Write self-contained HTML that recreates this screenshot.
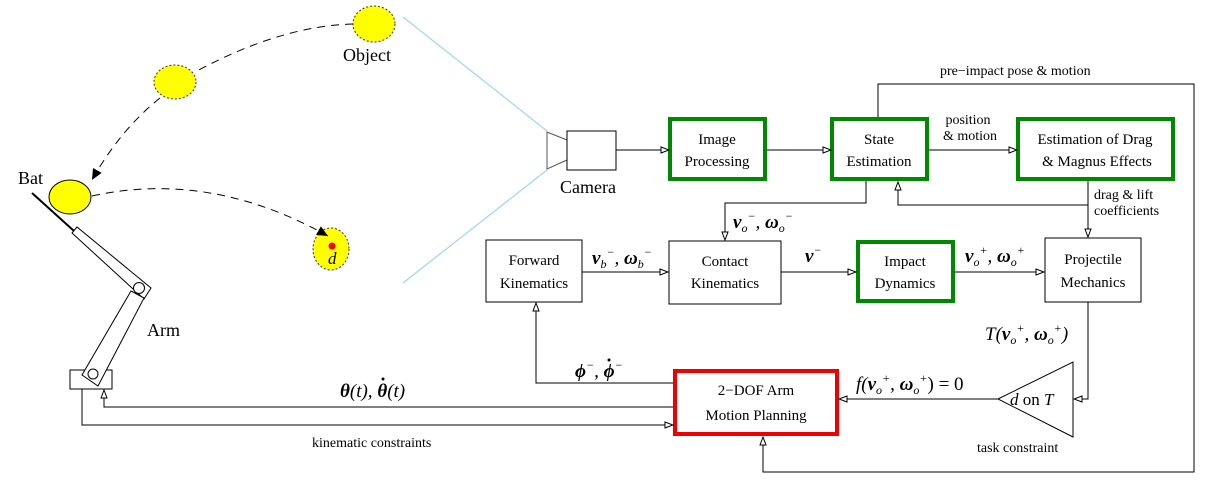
<!DOCTYPE html>
<html><head><meta charset="utf-8"><style>
html,body{margin:0;padding:0;background:#fff;}
svg{display:block;}
text{font-family:"Liberation Serif",serif;fill:#000;}
.m{font-style:italic;}
</style></head><body>
<svg width="1205" height="490" viewBox="0 0 1205 490" xmlns="http://www.w3.org/2000/svg">
<defs>
<marker id="a" markerWidth="10" markerHeight="8" refX="9" refY="4" orient="auto" markerUnits="userSpaceOnUse">
<path d="M1,1 L9,4 L1,7 Z" fill="#fff" stroke="#000" stroke-width="1"/>
</marker>
<marker id="b" markerWidth="12" markerHeight="10" refX="11" refY="5" orient="auto" markerUnits="userSpaceOnUse">
<path d="M0,0 L11,5 L0,10 Z" fill="#000"/>
</marker>
</defs>

<line x1="403" y1="17" x2="547" y2="131" stroke="#9fd3f5" stroke-width="1.2"/>
<line x1="403" y1="283" x2="547" y2="170" stroke="#9fd3f5" stroke-width="1.2"/>

<ellipse cx="374" cy="24" rx="21" ry="18" fill="#ffff00" stroke="#333" stroke-dasharray="2,2"/>
<ellipse cx="175" cy="82" rx="21" ry="17" fill="#ffff00" stroke="#333" stroke-dasharray="2,2"/>
<ellipse cx="70" cy="197" rx="21" ry="17" fill="#ffff00" stroke="#000" stroke-width="1"/>
<ellipse cx="331" cy="249" rx="18" ry="21" fill="#ffff00" stroke="#333" stroke-dasharray="2,2"/>
<circle cx="332" cy="246" r="3.5" fill="#ff0000"/>
<text x="328" y="264" font-size="17" class="m">d</text>

<path d="M353,24 Q280,26 195,72" fill="none" stroke="#000" stroke-dasharray="8,6"/>
<path d="M160,98 Q120,130 92,180" fill="none" stroke="#000" stroke-dasharray="8,6" marker-end="url(#b)"/>
<path d="M92,196 Q210,170 328,236" fill="none" stroke="#000" stroke-dasharray="8,6" marker-end="url(#b)"/>

<text x="343" y="61" font-size="18">Object</text>
<text x="18" y="184" font-size="18">Bat</text>
<text x="147" y="336" font-size="18">Arm</text>

<line x1="32" y1="193" x2="74" y2="231" stroke="#000" stroke-width="2"/>
<polygon points="72,233 77,227 151,288 144,299" fill="#fff" stroke="#000"/>
<rect x="70" y="370" width="42" height="19" fill="#fff" stroke="#000"/>
<polygon points="131,291 144,298 98,386 82,375" fill="#fff" stroke="#000"/>
<circle cx="139" cy="288" r="5.5" fill="#fff" stroke="#000"/>
<circle cx="93" cy="374" r="5" fill="#fff" stroke="#000"/>

<polygon points="547,132 567,140 567,160 547,169" fill="#fff" stroke="#555"/>
<rect x="567" y="131" width="49" height="39" fill="#fff" stroke="#000"/>
<text x="560" y="193" font-size="18">Camera</text>

<g fill="#fff">
<rect x="670" y="119" width="95" height="60" stroke="#008800" stroke-width="4"/>
<rect x="832" y="119" width="95" height="60" stroke="#008800" stroke-width="4"/>
<rect x="1018" y="119" width="155" height="60" stroke="#008800" stroke-width="4"/>
<rect x="486" y="240" width="96" height="62" stroke="#000" stroke-width="1"/>
<rect x="669" y="241" width="112" height="63" stroke="#000" stroke-width="1"/>
<rect x="858" y="242" width="95" height="59" stroke="#008800" stroke-width="4"/>
<rect x="1045" y="238" width="96" height="64" stroke="#000" stroke-width="1"/>
<rect x="675" y="371" width="162" height="63" stroke="#ee0000" stroke-width="4"/>
</g>
<g font-size="15" text-anchor="middle">
<text x="717" y="144">Image</text><text x="717" y="166">Processing</text>
<text x="879" y="144">State</text><text x="879" y="166">Estimation</text>
<text x="1095" y="144">Estimation of Drag</text><text x="1097" y="166">&amp; Magnus Effects</text>
<text x="534" y="265">Forward</text><text x="534" y="288">Kinematics</text>
<text x="725" y="266">Contact</text><text x="725" y="288">Kinematics</text>
<text x="905" y="266">Impact</text><text x="905" y="288">Dynamics</text>
<text x="1093" y="264">Projectile</text><text x="1093" y="287">Mechanics</text>
<text x="756" y="395">2−DOF Arm</text><text x="756" y="420">Motion Planning</text>
</g>

<polygon points="998,399 1073,362 1073,437" fill="#fff" stroke="#000"/>
<text x="1010" y="405" font-size="17"><tspan class="m">d</tspan> on <tspan class="m">T</tspan></text>
<text x="977" y="452" font-size="14">task constraint</text>

<g fill="none" stroke="#000" stroke-width="1">
<line x1="616" y1="150" x2="669" y2="150" marker-end="url(#a)"/>
<line x1="767" y1="150" x2="831" y2="150" marker-end="url(#a)"/>
<line x1="929" y1="150" x2="1017" y2="150" marker-end="url(#a)"/>
<polyline points="878,117 878,84 1194,84 1194,472 763,472 763,437" marker-end="url(#a)"/>
<polyline points="1088,181 1088,237" marker-end="url(#a)"/>
<polyline points="1088,205 898,205 898,182" marker-end="url(#a)"/>
<polyline points="866,181 866,203 725,203 725,240" marker-end="url(#a)"/>
<line x1="582" y1="272" x2="668" y2="272" marker-end="url(#a)"/>
<line x1="781" y1="272" x2="856" y2="272" marker-end="url(#a)"/>
<line x1="955" y1="272" x2="1044" y2="272" marker-end="url(#a)"/>
<polyline points="1088,302 1088,399 1074,399" marker-end="url(#a)"/>
<line x1="998" y1="399" x2="839" y2="399" marker-end="url(#a)"/>
<polyline points="673,383 536,383 536,303" marker-end="url(#a)"/>
<polyline points="673,407 104,407 104,390" marker-end="url(#a)"/>
<polyline points="82,389 82,425 673,425" marker-end="url(#a)"/>
</g>

<text x="940" y="75" font-size="14">pre−impact pose &amp; motion</text>
<text x="968" y="124" font-size="14" text-anchor="middle">position</text>
<text x="970" y="140" font-size="14" text-anchor="middle">&amp; motion</text>
<text x="1094" y="199" font-size="14">drag &amp; lift</text>
<text x="1094" y="215" font-size="14">coefficients</text>

<text x="340" y="397" font-size="19" class="m"><tspan font-weight="bold">θ</tspan>(t), <tspan font-weight="bold">θ</tspan>(t)</text>
<circle cx="383" cy="379" r="1.5" fill="#000"/>
<text x="733" y="228" font-size="19" class="m"><tspan font-weight="bold">v</tspan><tspan font-size="12" dy="4">o</tspan><tspan font-size="12" dy="-12">−</tspan><tspan dy="8">, </tspan><tspan font-weight="bold">ω</tspan><tspan font-size="12" dy="4">o</tspan><tspan font-size="12" dy="-12">−</tspan></text>
<text x="592" y="264" font-size="19" class="m"><tspan font-weight="bold">v</tspan><tspan font-size="12" dy="4">b</tspan><tspan font-size="12" dy="-12">−</tspan><tspan dy="8">, </tspan><tspan font-weight="bold">ω</tspan><tspan font-size="12" dy="4">b</tspan><tspan font-size="12" dy="-12">−</tspan></text>
<text x="805" y="262" font-size="19" class="m"><tspan font-weight="bold">v</tspan><tspan font-size="12" dy="-8">−</tspan></text>
<text x="965" y="262" font-size="19" class="m"><tspan font-weight="bold">v</tspan><tspan font-size="12" dy="4">o</tspan><tspan font-size="12" dy="-12">+</tspan><tspan dy="8">, </tspan><tspan font-weight="bold">ω</tspan><tspan font-size="12" dy="4">o</tspan><tspan font-size="12" dy="-12">+</tspan></text>
<text x="985" y="340" font-size="19" class="m">T(<tspan font-weight="bold">v</tspan><tspan font-size="12" dy="4">o</tspan><tspan font-size="12" dy="-12">+</tspan><tspan dy="8">, </tspan><tspan font-weight="bold">ω</tspan><tspan font-size="12" dy="4">o</tspan><tspan font-size="12" dy="-12">+</tspan><tspan dy="8">)</tspan></text>
<text x="856" y="390" font-size="19" class="m">f(<tspan font-weight="bold">v</tspan><tspan font-size="12" dy="4">o</tspan><tspan font-size="12" dy="-12">+</tspan><tspan dy="8">, </tspan><tspan font-weight="bold">ω</tspan><tspan font-size="12" dy="4">o</tspan><tspan font-size="12" dy="-12">+</tspan><tspan dy="8" font-style="normal">) = 0</tspan></text>
<text x="575" y="377" font-size="19" class="m"><tspan font-weight="bold">ϕ</tspan><tspan font-size="12" dy="-8">−</tspan><tspan dy="8">, </tspan><tspan font-weight="bold">ϕ</tspan><tspan font-size="12" dy="-8">−</tspan></text>
<circle cx="609" cy="360" r="1.5" fill="#000"/>
<text x="312" y="447" font-size="14">kinematic constraints</text>
</svg>
</body></html>
